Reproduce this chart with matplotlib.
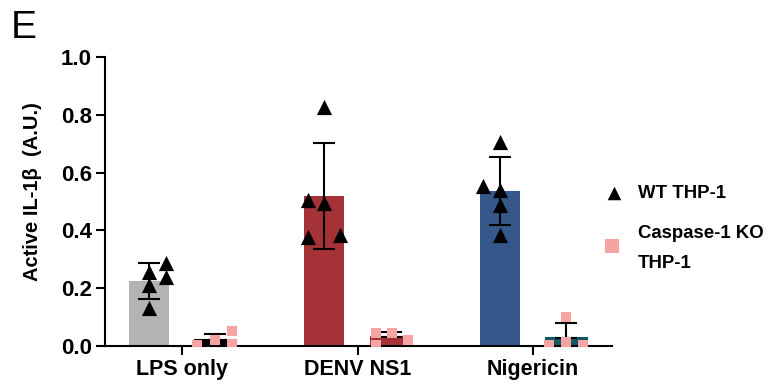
import numpy as np
import matplotlib.pyplot as plt

plt.rcParams['font.family'] = ['Liberation Sans', 'DejaVu Sans']

groups = ['LPS only', 'DENV NS1', 'Nigericin']
bar_colors = ['#b3b3b3', '#a53237', '#35578a']
ko_colors = ['#000000', '#a53237', '#125863']

# WT THP-1 bars (mean, SD) and individual replicates
wt_mean = [0.225, 0.52, 0.537]
wt_sd = [0.061, 0.183, 0.117]
wt_points = [
    [0.257, 0.211, 0.131, 0.288, 0.238],
    [0.828, 0.505, 0.494, 0.378, 0.384],
    [0.707, 0.555, 0.540, 0.488, 0.386],
]

# Caspase-1 KO THP-1
ko_mean = [0.022, 0.030, 0.028]
ko_sd = [0.020, 0.018, 0.052]
ko_points = [
    [0.003, 0.021, 0.052, 0.006],
    [0.047, 0.003, 0.047, 0.021],
    [0.003, 0.100, 0.015, 0.003],
]

# horizontal scatter of replicate symbols (in bar-widths)
wt_jitter = [
    [0, 0, 0, 0.42, 0.42],
    [0, -0.4, 0, -0.4, 0.4],
    [0, -0.42, 0, 0, 0],
]
ko_jitter = [
    [-0.45, 0, 0.4, 0.4],
    [-0.38, -0.38, 0.02, 0.42],
    [-0.42, 0, 0, 0.4],
]

fig = plt.figure(figsize=(7.67, 3.85), dpi=100)
ax = fig.add_axes([0.137, 0.101, 0.661, 0.751])

x = np.arange(len(groups))
off = 0.19
w = 0.23

for i in range(len(groups)):
    xw = x[i] - off
    xk = x[i] + off
    ax.bar(xw, wt_mean[i], width=w, color=bar_colors[i], zorder=1)
    ax.errorbar(xw, wt_mean[i], yerr=wt_sd[i], fmt='none', ecolor='black',
                elinewidth=1.5, capsize=8, capthick=1.5, zorder=3)
    ax.scatter(xw + np.array(wt_jitter[i]) * w, wt_points[i], marker='^',
               s=120, color='black', zorder=4, linewidths=0)

    ax.bar(xk, ko_mean[i], width=w, color=ko_colors[i], edgecolor=ko_colors[i],
           linewidth=1.5, zorder=1)
    ax.errorbar(xk, ko_mean[i], yerr=[[0], [ko_sd[i]]], fmt='none', ecolor='black',
                elinewidth=1.5, capsize=8, capthick=1.5, zorder=3)
    ax.scatter(xk + np.array(ko_jitter[i]) * w, ko_points[i], marker='s',
               s=60, color='#f5a3a3', zorder=4, linewidths=0)

ax.set_xlim(-0.439, 2.45)
ax.set_ylim(0, 1.0)
ax.set_xticks(x)
ax.set_xticklabels(groups, fontsize=15.5, fontweight='bold')
ax.set_yticks([0, 0.2, 0.4, 0.6, 0.8, 1.0])
ax.set_yticklabels(['0.0', '0.2', '0.4', '0.6', '0.8', '1.0'], fontsize=16,
                   fontweight='bold')
ax.tick_params(axis='both', width=1.5, length=6.5, pad=3)
for s in ['top', 'right']:
    ax.spines[s].set_visible(False)
for s in ['left', 'bottom']:
    ax.spines[s].set_linewidth(1.5)
ax.set_ylabel('Active IL-1β  (A.U.)', fontsize=14.5, fontweight='bold')
ax.yaxis.set_label_coords(-0.124, 0.535)

# legend drawn by hand next to the axes
fig.text(0.014, 0.975, 'E', fontsize=28, va='top', ha='left')
ax_leg = fig.add_axes([0, 0, 1, 1], facecolor='none')
ax_leg.set_axis_off()
ax_leg.set_xlim(0, 767)
ax_leg.set_ylim(385, 0)
ax_leg.scatter([614], [193], marker='^', s=95, color='black', linewidths=0)
ax_leg.scatter([612], [246], marker='s', s=110, color='#f5a3a3', linewidths=0)
ax_leg.text(638, 193, 'WT THP-1', fontsize=13.4, fontweight='bold', va='center')
ax_leg.text(638, 233, 'Caspase-1 KO', fontsize=13.4, fontweight='bold', va='center')
ax_leg.text(638, 264, 'THP-1', fontsize=13.4, fontweight='bold', va='center')

fig.savefig('out.png', dpi=100)
